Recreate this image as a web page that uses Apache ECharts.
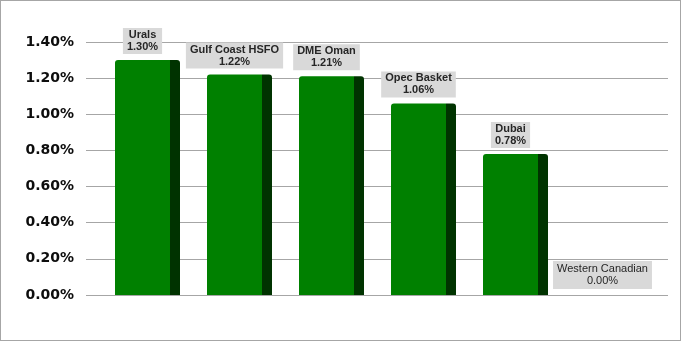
<!DOCTYPE html>
<html>
<head>
<meta charset="utf-8">
<script src="https://cdn.jsdelivr.net/npm/echarts@6/dist/echarts.min.js"></script>
<style>
html,body{margin:0;padding:0;background:#fff;}
#wrap{width:681px;height:341px;box-sizing:border-box;border:1px solid #a6a6a6;position:relative;}
#chart{position:absolute;left:-1px;top:-1px;width:681px;height:341px;}
</style>
</head>
<body>
<div id="wrap"><div id="chart"></div></div>
<script>
const categories = ['Urals', 'Gulf Coast HSFO', 'DME Oman', 'Opec Basket', 'Dubai', 'Western Canadian'];
const values = [1.30, 1.22, 1.21, 1.06, 0.78, 0.00];
const yMin = 0, yMax = 1.4, yStep = 0.2;

const chart = echarts.init(document.getElementById('chart'), null, {renderer: 'canvas'});
const barFill = new echarts.graphic.LinearGradient(0, 0, 1, 0, [
  {offset: 0, color: '#008000'},
  {offset: 0.846, color: '#008000'},
  {offset: 0.846, color: '#003300'},
  {offset: 1, color: '#003300'}
]);
const seriesData = values.map((v, i) => {
  const d = {value: v};
  if (v === 0) d.label = {fontWeight: 'normal', padding: [2, 4, 2, 4]};
  return d;
});
chart.setOption({
  animation: false,
  grid: [
    {left: 86, right: 13, top: 42, bottom: 46, containLabel: false},
    {left: 101.5, right: 27.5, top: 42, bottom: 46, containLabel: false}
  ],
  xAxis: [
    {gridIndex: 0, type: 'category', data: categories, show: false},
    {gridIndex: 1, type: 'category', data: categories, show: false}
  ],
  yAxis: [
    {
      gridIndex: 0, type: 'value', min: yMin, max: yMax, interval: yStep,
      axisLine: {show: false}, axisTick: {show: false},
      splitLine: {show: true, lineStyle: {color: '#a6a6a6', width: 1}},
      axisLabel: {
        margin: 12,
        formatter: v => v.toFixed(2) + '%',
        fontFamily: 'DejaVu Sans', fontWeight: 'bold', fontSize: 14, color: '#0d0d0d'
      }
    },
    {
      gridIndex: 1, type: 'value', min: yMin, max: yMax, interval: yStep,
      show: false, splitLine: {show: false}
    }
  ],
  series: [{
    type: 'bar',
    xAxisIndex: 1, yAxisIndex: 1,
    data: seriesData,
    barWidth: 65,
    itemStyle: {color: barFill, borderRadius: [3, 3, 0, 0], borderWidth: 0},
    label: {
      show: true,
      position: 'top',
      distance: 6,
      offset: [-5, 0],
      formatter: p => p.name + '\n' + p.value.toFixed(2) + '%',
      fontFamily: 'Liberation Sans', fontWeight: 'bold', fontSize: 11, lineHeight: 12,
      color: '#262626',
      backgroundColor: '#d9d9d9',
      padding: [1, 4, 1, 4],
      align: 'center'
    }
  }]
});
</script>
</body>
</html>
